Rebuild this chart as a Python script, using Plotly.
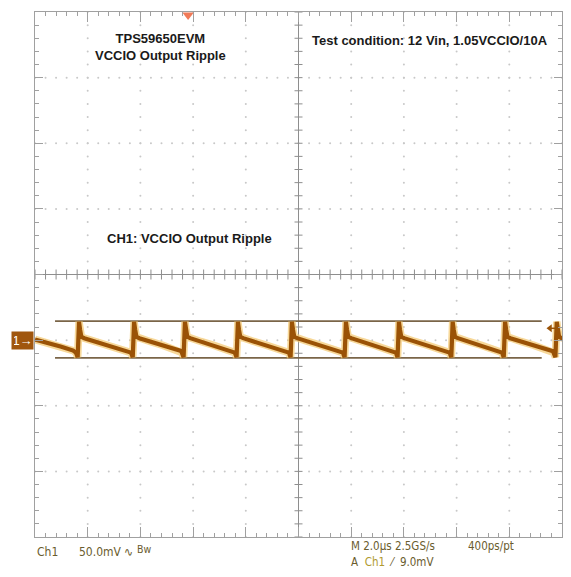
import numpy as np
import plotly.graph_objects as go

# ---------------- data ----------------
# time base 2.0 us/div (10 div), Ch1 50.0 mV/div (8 div), Ch1 ground one division below centre
x_range_us = [0.0, 20.0]
y_range_mv = [-150.0, 250.0]

# switching spikes of the output ripple (us)
spike_times_us = [1.67, 3.76, 5.69, 7.70, 9.75, 11.80, 13.81, 15.85, 17.84, 19.80]
# shape of one switching cycle relative to its spike
cycle_dt_us = [-0.12, -0.05, 0.00, 0.04, 0.09, 0.20, 0.60, 1.10, 1.50, 1.82]
cycle_mv = [-9.5, -13.0, 14.0, 8.0, 2.5, 1.5, -1.0, -4.0, -6.5, -8.5]
# trace before the first spike
lead_t_us = [0.0, 0.5, 1.0, 1.45]
lead_mv = [0.5, -2.0, -5.0, -8.0]

# horizontal cursors (mV) and their extent (us)
cursor_mv = [14.5, -13.5]
cursor_x_us = [0.76, 19.23]

trigger_pos_us = 5.81
trigger_level_mv = 9.0

# ---------------- build trace ----------------
tx = list(lead_t_us)
ty = list(lead_mv)
for ts in spike_times_us:
    for dt, v in zip(cycle_dt_us, cycle_mv):
        tx.append(ts + dt)
        ty.append(v)

# ---------------- figure geometry ----------------
W, H = 571, 577
L, R, T, B = 35, 9, 12, 40
pw, ph = W - L - R, H - T - B
xs = pw / (x_range_us[1] - x_range_us[0])   # px per us
ys = ph / (y_range_mv[1] - y_range_mv[0])   # px per mV


def px_x(px):
    return x_range_us[0] + (px - L) / xs


def px_y(py):
    return y_range_mv[1] - (py - T) / ys


def paper_y(py):
    return (H - B - py) / ph


fig = go.Figure()

# graticule dots
gx, gy = [], []
for xm in np.arange(2, 20, 2):
    if abs(xm - 10) < 1e-6:
        continue
    for ym in np.arange(-150, 250.01, 10):
        gx.append(xm); gy.append(ym)
for ym in np.arange(-100, 250, 50):
    if abs(ym - 50) < 1e-6:
        continue
    for xm in np.arange(0, 20.01, 0.4):
        gx.append(xm); gy.append(ym)
fig.add_trace(go.Scatter(x=gx, y=gy, mode="markers",
                         marker=dict(size=2, color="#c8c8c8"),
                         hoverinfo="skip", showlegend=False))

# centre cross with ticks
cx, cy = 10.0, 50.0
lx, ly = [0, 20, None, cx, cx, None], [cy, cy, None, -150, 250, None]
for xm in np.arange(0, 20.01, 0.4):
    h = 5 / ys
    lx += [xm, xm, None]; ly += [cy - h, cy + h, None]
for ym in np.arange(-150, 250.01, 10):
    h = 4 / xs
    lx += [cx - h, cx + h, None]; ly += [ym, ym, None]
fig.add_trace(go.Scatter(x=lx, y=ly, mode="lines",
                         line=dict(color="#8e8e8e", width=1),
                         hoverinfo="skip", showlegend=False))

# cursors
for c in cursor_mv:
    fig.add_trace(go.Scatter(x=cursor_x_us, y=[c, c], mode="lines",
                             line=dict(color="#7a6548", width=1.6),
                             hoverinfo="skip", showlegend=False))

# waveform (glow + core)
fig.add_trace(go.Scatter(x=tx, y=ty, mode="lines",
                         line=dict(color="rgba(244,200,110,0.7)", width=7.5),
                         hoverinfo="skip", showlegend=False))
fig.add_trace(go.Scatter(x=tx, y=ty, mode="lines",
                         line=dict(color="#9a5206", width=4.2),
                         hoverinfo="skip", showlegend=False))

# trigger position marker (top) and trigger level marker (right)
fig.add_trace(go.Scatter(x=[trigger_pos_us], y=[y_range_mv[1] - 3 / ys], mode="markers",
                         marker=dict(symbol="triangle-down", size=10, color="#f07a58"),
                         cliponaxis=False, hoverinfo="skip", showlegend=False))
fig.add_trace(go.Scatter(x=[px_x(549), px_x(557)], y=[trigger_level_mv, trigger_level_mv],
                         mode="lines", line=dict(color="#9a5206", width=1.5),
                         hoverinfo="skip", showlegend=False))
fig.add_trace(go.Scatter(x=[px_x(550)], y=[trigger_level_mv], mode="markers",
                         marker=dict(symbol="triangle-left", size=7, color="#9a5206"),
                         cliponaxis=False, hoverinfo="skip", showlegend=False))

axis_common = dict(showgrid=False, zeroline=False, showticklabels=False,
                   showline=True, linecolor="#a0a0a0", linewidth=1,
                   mirror="ticks", ticks="inside", tickcolor="#a0a0a0", fixedrange=True)
fig.update_xaxes(range=x_range_us, tick0=0, dtick=2, ticklen=10,
                 minor=dict(dtick=0.4, ticklen=4, ticks="inside", tickcolor="#a0a0a0"),
                 **axis_common)
fig.update_yaxes(range=y_range_mv, tick0=-150, dtick=50, ticklen=8,
                 minor=dict(dtick=10, ticklen=4, ticks="inside", tickcolor="#a0a0a0"),
                 **axis_common)

bold = dict(family="Liberation Sans, Arial, sans-serif", size=13, color="#1a1a1a")
scope_family = "Liberation Sans Narrow, Arial Narrow, DejaVu Sans Condensed, sans-serif"
scope_color = "#6a5c2e"
ann = []
ann.append(dict(x=px_x(160), y=px_y(46.5), text="<b>TPS59650EVM<br>VCCIO Output Ripple</b>",
                showarrow=False, font=bold, xanchor="center", yanchor="middle", align="center"))
ann.append(dict(x=px_x(310), y=px_y(40), text="<b>Test condition: 12 Vin, 1.05VCCIO/10A</b>",
                showarrow=False, font=bold, xanchor="left", yanchor="middle"))
ann.append(dict(x=px_x(189.5), y=px_y(238.5), text="<b>CH1: VCCIO Output Ripple</b>",
                showarrow=False, font=bold, xanchor="center", yanchor="middle"))
# channel marker
ann.append(dict(xref="paper", x=0, xanchor="right", xshift=-1, y=0, yanchor="middle",
                text="1→", showarrow=False, bgcolor="#a0560e", borderpad=2,
                width=17, height=13,
                font=dict(family="Liberation Sans, Arial, sans-serif", size=13, color="#ffffff")))


def status(px, py, text, size=12):
    return dict(x=px_x(px), yref="paper", y=paper_y(py), text=text, showarrow=False,
                font=dict(family=scope_family, size=size, color=scope_color),
                xanchor="left", yanchor="middle")


ann.append(status(35, 551.5, "Ch1"))
ann.append(status(77, 551.5, "50.0mV"))
ann.append(status(122, 551.5, "∿"))
ann.append(status(135, 549, "Bw", 10.5))
ann.append(status(349, 545.5, "M 2.0µs 2.5GS/s", 11.5))
ann.append(status(466, 545.5, "400ps/pt", 11.5))
ann.append(status(349, 562, "A\u00a0\u00a0<span style='color:#b09a30'>Ch1</span>\u00a0\u00a0⁄\u00a0\u00a09.0mV", 11.5))

fig.update_layout(width=W, height=H, margin=dict(l=L, r=R, t=T, b=B),
                  plot_bgcolor="#ffffff", paper_bgcolor="#ffffff",
                  showlegend=False, annotations=ann)

fig.write_html("out.html", config={"displayModeBar": False},
               post_script="document.body.style.margin='0';document.body.style.overflow='hidden';")
